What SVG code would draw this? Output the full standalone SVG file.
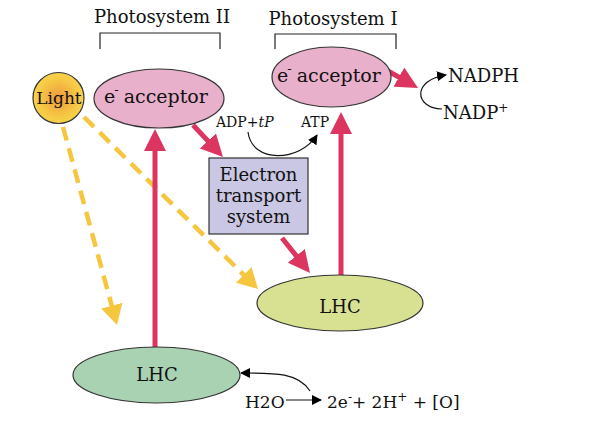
<svg xmlns="http://www.w3.org/2000/svg" width="592" height="430" viewBox="0 0 592 430">
<defs>
<radialGradient id="sun" cx="0.5" cy="0.5" r="0.5">
<stop offset="0" stop-color="#ee9840"/>
<stop offset="0.75" stop-color="#f6c944"/>
<stop offset="1" stop-color="#f7d24a"/>
</radialGradient>
<marker id="hr" viewBox="0 0 22 22" markerWidth="22" markerHeight="22" markerUnits="userSpaceOnUse" refX="2" refY="11" orient="auto"><path d="M0,0 L22,11 L0,22 z" fill="#dc3560"/></marker>
<marker id="hy" viewBox="0 0 20 22" markerWidth="20" markerHeight="22" markerUnits="userSpaceOnUse" refX="2" refY="11" orient="auto"><path d="M0,0 L20,11 L0,22 z" fill="#f6c63f"/></marker>
<marker id="hk" viewBox="0 0 10 10" markerWidth="10" markerHeight="10" markerUnits="userSpaceOnUse" refX="9" refY="5" orient="auto"><path d="M0,0 L10,5 L0,10 z" fill="#000"/></marker>
</defs>
<style>
text{font-family:"DejaVu Serif","Liberation Serif",serif;fill:#111}
.node{stroke:#333;stroke-width:1.2}
.br{fill:none;stroke:#222;stroke-width:1.2}
.red{stroke:#dc3560;stroke-width:5;fill:none;marker-end:url(#hr)}
.yel{stroke:#f6c63f;stroke-width:4.5;fill:none;stroke-dasharray:14 8;marker-end:url(#hy)}
.blk{stroke:#111;stroke-width:1.2;fill:none;marker-end:url(#hk)}
.t18{font-size:18px}
.t17{font-size:17px}
.t14{font-size:14px}
</style>
<rect width="592" height="430" fill="#fff"/>
<g id="labels">
<text class="t18" x="162" y="23" text-anchor="middle">Photosystem II</text>
<path class="br" d="M100,49 V33 H220 V49"/>
<text class="t18" x="333" y="25" text-anchor="middle">Photosystem I</text>
<path class="br" d="M275,49 V34 H396 V49"/>
</g>
<g id="connectors">
<path class="yel" d="M63,127 L112.3,307.6"/>
<path class="yel" d="M84,117 L245.2,276.3"/>
<path class="red" d="M155,347 L155,149"/>
<path class="red" d="M341,277 L341,132"/>
<path class="red" d="M193,125 L209.3,142.4"/>
<path class="red" d="M282,238 L297.5,257.4"/>
<path class="red" d="M388,71 L400.6,78.1"/>
<path class="blk" d="M248,132 C252,164 300,162 317,135"/>
<path class="blk" d="M442,109 C414,108 412,80 446,75"/>
<path class="blk" d="M286,400 L321,400"/>
<path class="blk" d="M310,391 C298,372 272,373 241,373"/>
</g>
<g id="light">
<circle class="node" cx="58.5" cy="98" r="25.5" fill="url(#sun)"/>
<text class="t17" x="59" y="104" text-anchor="middle">Light</text>
</g>
<g id="ps2-acceptor">
<ellipse class="node" cx="159" cy="98.5" rx="65" ry="29.5" fill="#e9b0cc"/>
<text font-size="19" x="104" y="103">e<tspan font-size="13" dx="-1" dy="-9">-</tspan><tspan dx="5" dy="9">acceptor</tspan></text>
</g>
<g id="ps1-acceptor">
<ellipse class="node" cx="331.5" cy="77" rx="59.5" ry="30" fill="#e9b0cc"/>
<text font-size="19" x="277" y="82">e<tspan font-size="13" dx="-1" dy="-9">-</tspan><tspan dx="5" dy="9">acceptor</tspan></text>
</g>
<g id="ets">
<rect class="node" x="209" y="158" width="99" height="76" fill="#c9c7e4"/>
<text class="t18" x="258.5" y="181" text-anchor="middle">Electron</text>
<text class="t18" x="258.5" y="202" text-anchor="middle">transport</text>
<text class="t18" x="258.5" y="223" text-anchor="middle">system</text>
</g>
<g id="lhc1">
<ellipse class="node" cx="340" cy="303" rx="83" ry="28" fill="#d7e191"/>
<text class="t18" x="340" y="313" text-anchor="middle">LHC</text>
</g>
<g id="lhc2">
<ellipse class="node" cx="156.5" cy="375" rx="83.5" ry="28" fill="#a8d2b2"/>
<text class="t18" x="157" y="381" text-anchor="middle">LHC</text>
</g>
<g id="texts">
<text class="t14" x="216" y="127">ADP+<tspan font-style="italic">tP</tspan></text>
<text class="t14" x="301" y="127">ATP</text>
<text class="t18" x="448" y="82">NADPH</text>
<text class="t18" x="443" y="119">NADP<tspan font-size="12" dy="-7">+</tspan></text>
<text class="t17" x="245" y="408">H2O</text>
<text class="t17" x="327" y="408">2e<tspan font-size="12" dy="-7">-</tspan><tspan dy="7">+ 2H</tspan><tspan font-size="12" dy="-7">+</tspan><tspan dy="7"> + [O]</tspan></text>
</g>
</svg>
